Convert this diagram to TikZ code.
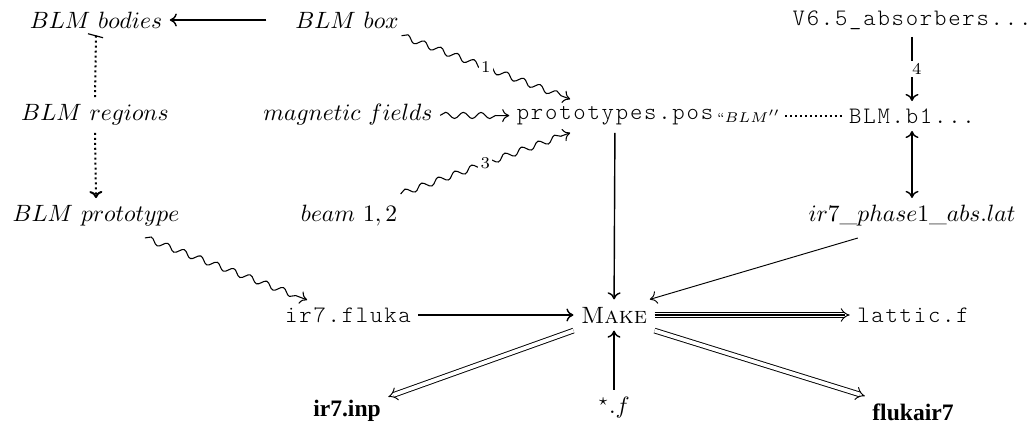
\documentclass[tikz,border=0pt]{standalone}
\usepackage{fontspec}
\newfontfamily\cour{lmmonolt10-regular.otf}[LetterSpace=7.5]
\newfontfamily\tnr{Liberation Serif}
\usetikzlibrary{arrows.meta,decorations.pathmorphing}

\begin{document}
\begin{tikzpicture}[x=0.424pt,y=-0.424pt,
  obj/.style={inner sep=3pt, font=\fontsize{10}{12}\selectfont},
  tt/.style={obj, font=\fontsize{10}{12}\selectfont\cour},
  bf/.style={obj, font=\fontsize{10}{12}\selectfont\tnr\bfseries},
  cm/.tip={Computer Modern Rightarrow[length=3pt,width=5.5pt]},
  tip/.style={-cm},
  solid edge/.style={line width=0.6pt},
  thin edge/.style={line width=0.4pt},
  dots/.style={line width=0.85pt, dash pattern=on 0.85pt off 1.25pt},
  squig/.style={line width=0.45pt, decorate,
    decoration={snake, amplitude=1.3pt, segment length=7.5pt, pre length=0pt, post length=3pt}},
  dbl/.style={double, double distance=1.6pt, line width=0.4pt,
    -{Implies[length=3.2pt]}},
  lbl/.style={inner sep=1pt, fill=white, font=\fontsize{7}{8}\selectfont}]
\useasboundingbox (0,0) rectangle (1033,428);

% objects, row by row
\node[obj] (bodies) at (96,20) {$BLM\ bodies$};
\node[obj] (box) at (347,20) {$BLM\ box$};
\node[tt] (abs) at (912,20) {V6.5\_absorbers...};

\node[obj] (regions) at (95,115) {$BLM\ regions$};
\node[obj] (mag) at (348,115) {$magnetic\ fields$};
\node[tt] (pos) at (615,116) {prototypes.pos};
\node[tt] (b1) at (912,116) {BLM.b1...};

\node[obj] (proto) at (96,216) {$BLM\ prototype$};
\node[obj] (beam) at (349,216) {$beam\ 1,2$};
\node[obj] (lat) at (912,216) {$ir7\_phase1\_abs.lat$};

\node[tt] (fluka) at (348,315) {ir7.fluka};
\node[obj] (make) at (614,315) {\textsc{Make}};
\node[tt] (lattic) at (913,315) {lattic.f};

\node[bf] (inp) at (347,411) {ir7.inp};
\node[obj] (srcf) at (614,408) {$^\star.f$};
\node[bf] (exe) at (913,412) {flukair7};

% upper left column
\draw[solid edge, tip, shorten <=9pt] (box) -- (bodies);
\coordinate (bartop) at (bodies.south);
\draw[dots] (bartop) -- (regions.north);
\draw[line width=0.5pt] ([xshift=-3.4pt,yshift=0.85pt]bartop) -- ([xshift=3pt,yshift=-0.85pt]bartop);
\draw[dots, tip] (regions.south) -- (proto.north);

% wavy inputs to the position file
\draw[squig, tip] ([xshift=-2pt]box.south east) -- node[lbl, pos=0.5] {1} ([xshift=-19pt]pos.north);
\draw[squig, tip] (mag) -- (pos);
\draw[squig, tip] ([xshift=-1.7pt,yshift=1.7pt]beam.north east) -- node[lbl, pos=0.5] {3} ([xshift=-19pt]pos.south);

% right column
\draw[solid edge, tip] (abs) -- node[lbl, pos=0.5, xshift=2pt] {4} (b1);
\draw[dots] (pos) -- node[inner sep=0.8pt, fill=white, pos=0.23, font=\fontsize{5.6}{7}\selectfont] {``$BLM''$} (b1);
\draw[solid edge, cm-cm] (b1) -- (lat);

% into the build
\draw[solid edge, tip] (pos) -- (make);
\draw[thin edge, tip] ([xshift=-23pt,yshift=-1.7pt]lat.south) -- ([xshift=-2pt]make.north east);
\draw[squig, tip] ([xshift=-17.8pt,yshift=-1.7pt]proto.south east) -- ([xshift=12.5pt]fluka.north west);
\draw[solid edge, tip] (fluka) -- (make);
\draw[solid edge, tip] (srcf) -- (make);

% outputs of the build
\draw[dbl] (make) -- (lattic);
\draw[line width=0.6pt, shorten >=2pt] (make) -- (lattic);
\draw[dbl] (make.south west) -- ([yshift=-1.7pt]inp.north east);
\draw[dbl] (make.south east) -- (exe.north west);
\end{tikzpicture}
\end{document}
